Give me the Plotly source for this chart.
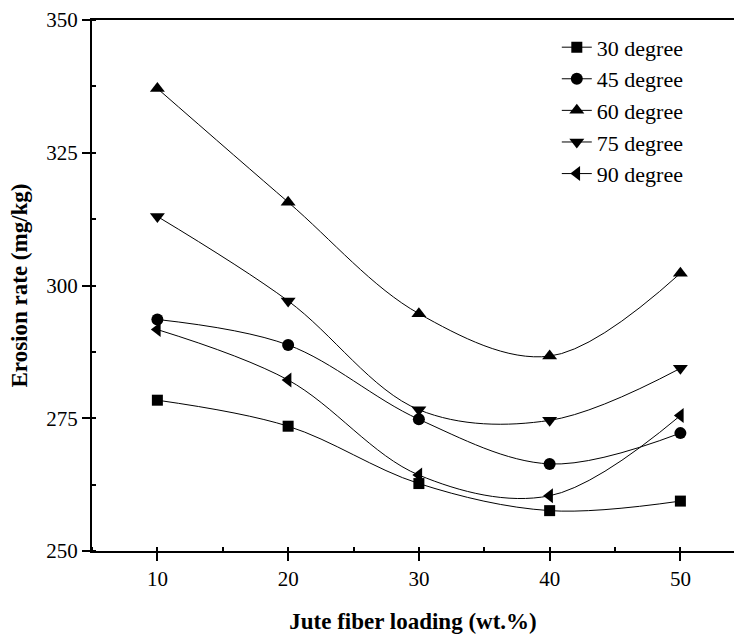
import plotly.graph_objects as go

# Jute fiber loading (wt.%)
loading = [10, 20, 30, 40, 50]

# Erosion rate (mg/kg) at each impingement angle
erosion_30 = [278.4, 273.5, 262.7, 257.6, 259.4]
erosion_45 = [293.6, 288.8, 274.8, 266.4, 272.2]
erosion_60 = [337.1, 315.7, 294.7, 286.7, 302.3]
erosion_75 = [313.0, 297.1, 276.6, 274.6, 284.4]
erosion_90 = [291.7, 282.2, 264.3, 260.4, 275.5]

series = [
    ("30 degree", erosion_30, "square", 11),
    ("45 degree", erosion_45, "circle", 12),
    ("60 degree", erosion_60, "triangle-up", 13),
    ("75 degree", erosion_75, "triangle-down", 13),
    ("90 degree", erosion_90, "triangle-left", 13),
]

FONT = "Liberation Serif"

fig = go.Figure()
for name, vals, sym, size in series:
    fig.add_trace(go.Scatter(
        x=loading, y=vals, name=name, mode="lines+markers",
        line=dict(color="black", width=1, shape="spline", smoothing=1.0),
        marker=dict(symbol=sym, size=size, color="black"),
    ))

fig.update_layout(
    width=734, height=634,
    margin=dict(l=92, r=0, t=20, b=83),
    paper_bgcolor="white", plot_bgcolor="white",
    font=dict(family=FONT, size=21, color="black"),
    showlegend=True,
    legend=dict(
        x=0.724, y=0.988, xanchor="left", yanchor="top",
        bgcolor="rgba(0,0,0,0)", borderwidth=0,
        font=dict(family=FONT, size=22, color="black"),
    ),
    xaxis=dict(
        range=[5, 54.1], tickvals=[10, 20, 30, 40, 50],
        showgrid=False, zeroline=False,
        showline=True, linecolor="black", linewidth=2, mirror=True,
        ticks="outside", ticklen=8, tickwidth=1.5, tickcolor="black",
        minor=dict(dtick=5, ticks="inside", ticklen=4, tickcolor="black", showgrid=False),
        tickfont=dict(family=FONT, size=21),
        title=dict(text="<b>Jute fiber loading (wt.%)</b>",
                   font=dict(family=FONT, size=23), standoff=28),
    ),
    yaxis=dict(
        range=[250, 350], tickvals=[250, 275, 300, 325, 350],
        showgrid=False, zeroline=False,
        showline=True, linecolor="black", linewidth=2, mirror=False,
        ticks="outside", ticklen=8, tickwidth=1.5, tickcolor="black",
        minor=dict(dtick=12.5, ticks="inside", ticklen=4, tickcolor="black", showgrid=False),
        tickfont=dict(family=FONT, size=21),
        title=dict(text="<b>Erosion rate (mg/kg)</b>",
                   font=dict(family=FONT, size=23), standoff=12),
    ),
)

fig.write_html("out.html")
